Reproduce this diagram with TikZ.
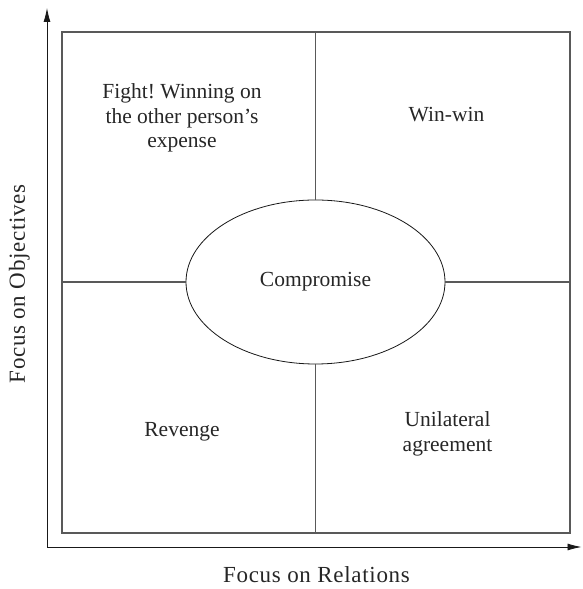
\documentclass[tikz,border=0pt]{standalone}
\usepackage{fontspec}
\setmainfont{Liberation Serif}
\usetikzlibrary{arrows.meta,shapes.geometric}
\frenchspacing
\begin{document}
\begin{tikzpicture}[x=1pt, y=1pt,
  font=\fontsize{21.5}{24.5}\selectfont, text=black!85,
  axis/.style={line width=0.8pt, black!90},
  grid/.style={draw=black!65, line width=1.2pt, minimum width=508pt, minimum height=501pt, inner sep=0pt},
  quad/.style={draw=black!65, line width=1.1pt},
  oval/.style={draw=black!90, line width=0.8pt, ellipse, minimum width=259pt, minimum height=164pt, inner sep=0pt},
  lbl/.style={align=center, inner sep=0pt},
  axlbl/.style={lbl, anchor=base, font=\fontsize{23}{26}\selectfont\addfontfeature{LetterSpace=3}}]
  \useasboundingbox (0,0) rectangle (582,589);
  \coordinate (ytop) at (47,581);
  \coordinate (xend) at (581.5,42);
  \draw[axis, {Latex[length=14pt,width=7pt]}-{Latex[length=14pt,width=7pt]}] (ytop) |- (xend);
  \node[grid] (frame) at (316,306.5) {};
  \node[oval] (comp) at (315.5,307) {Compromise};
  \draw[quad] (comp.north) -- (comp.north |- frame.north);
  \draw[quad] (comp.south) -- (comp.south |- frame.south);
  \draw[quad] (comp.west) -- (comp.west -| frame.west);
  \draw[quad] (comp.east) -- (comp.east -| frame.east);
  \node[lbl] (fight) at (182,471) {Fight! Winning on\\the other person’s\\expense};
  \node[lbl, anchor=base] (winwin) at (446.5,467) {Win-win};
  \node[lbl, anchor=base] (revenge) at (182,152) {Revenge};
  \node[lbl] (unilat) at (447.5,155) {Unilateral\\agreement};
  \node[axlbl] (xlabel) at (316.5,6) {Focus on Relations};
  \node[axlbl, rotate=90] (ylabel) at (25,305) {Focus on Objectives};
\end{tikzpicture}
\end{document}
